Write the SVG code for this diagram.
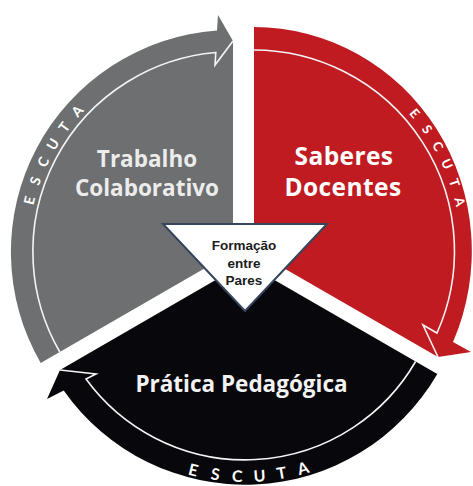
<svg xmlns="http://www.w3.org/2000/svg" width="473" height="486" viewBox="0 0 473 486">
  <defs>
    <style>
      .label { font-family: "Open Sans", Lato, "Liberation Sans", sans-serif; font-weight: bold; text-anchor: middle; }
      .escuta { font-family: Lato, "Liberation Sans", sans-serif; font-weight: bold; fill: #ffffff; text-anchor: middle; }
      .eg { font-size: 14px; }
      .er { font-size: 13px; }
      .eb { font-size: 16px; }
      .outline { fill: none; stroke: #f4f4f4; stroke-width: 1.6; stroke-linejoin: miter; }
      .center-text { font-family: "Liberation Sans", Arial, sans-serif; font-weight: bold; font-size: 13.5px; fill: #1c1c1c; text-anchor: middle; }
    </style>
  </defs>
  <rect width="473" height="486" fill="#ffffff"/>

  <g id="node-trabalho">
    <path d="M233,252 L40.7,363 A222,222 0 0 1 217,30.5 L218,15 L233,41 Z" fill="#6d6f71"/>
    <text class="label" x="147" y="167" font-size="22.5" fill="#ececec">Trabalho</text>
    <text class="label" x="147" y="196" font-size="22.5" fill="#ececec">Colaborativo</text>
    <g class="escuta eg">
      <text transform="translate(34.3,201.7) rotate(-75.8)">E</text>
      <text transform="translate(40.1,182.6) rotate(-70.2)">S</text>
      <text transform="translate(47.8,164.1) rotate(-64.6)">C</text>
      <text transform="translate(57.1,146.7) rotate(-59.1)">U</text>
      <text transform="translate(68.2,130.1) rotate(-53.5)">T</text>
      <text transform="translate(80.9,114.5) rotate(-47.9)">A</text>
    </g>
  </g>

  <g id="node-saberes">
    <path d="M254,251 L254,27 A218,224 0 0 1 453,342 L471,352 L438,357 Z" fill="#c11b22"/>
    <text class="label" x="344" y="164.5" font-size="24.5" letter-spacing="0.4" fill="#ffffff">Saberes</text>
    <text class="label" x="343" y="196" font-size="24.5" letter-spacing="0.4" fill="#ffffff">Docentes</text>
    <g class="escuta er">
      <text transform="translate(411.2,116.3) rotate(49.4)">E</text>
      <text transform="translate(423.2,131.8) rotate(54.8)">S</text>
      <text transform="translate(433.8,148.4) rotate(60.3)">C</text>
      <text transform="translate(442.7,165.9) rotate(65.7)">U</text>
      <text transform="translate(449.9,184.2) rotate(71.2)">T</text>
      <text transform="translate(455.4,203.0) rotate(76.6)">A</text>
    </g>
  </g>

  <g id="node-pratica">
    <path d="M245,263 L437.3,374 A222,222 0 0 1 63.7,390.5 L47,399 L60,370 Z" fill="#08080c"/>
    <text class="label" x="241.5" y="392" font-size="22.5" fill="#f2f2f2">Prática Pedagógica</text>
    <g class="escuta eb">
      <text transform="translate(192.0,475.5) rotate(14)">E</text>
      <text transform="translate(214.5,479.9) rotate(8)">S</text>
      <text transform="translate(237.0,481.9) rotate(2.1)">C</text>
      <text transform="translate(259.8,481.5) rotate(-3.9)">U</text>
      <text transform="translate(282.4,478.8) rotate(-9.8)">T</text>
      <text transform="translate(304.6,473.8) rotate(-15.8)">A</text>
    </g>
  </g>

  <g id="connectors">
    <path class="outline" d="M59.8,352 A200,200 0 0 1 215.8,52.5 L215,65 L233,41"/>
    <path class="outline" d="M254,50 A201,201 0 0 1 437,333 L423,325 L438,357"/>
    <path class="outline" d="M415.6,361.5 A197,197 0 0 1 86,379 L96,374 L60,370"/>
  </g>

  <g id="node-formacao">
    <path d="M163,224 L327,224 L245,311 Z" fill="#ffffff" stroke="#34455c" stroke-width="2" stroke-linejoin="miter"/>
    <text class="center-text" x="244" y="250">Formação</text>
    <text class="center-text" x="244" y="268">entre</text>
    <text class="center-text" x="244" y="285">Pares</text>
  </g>
</svg>
